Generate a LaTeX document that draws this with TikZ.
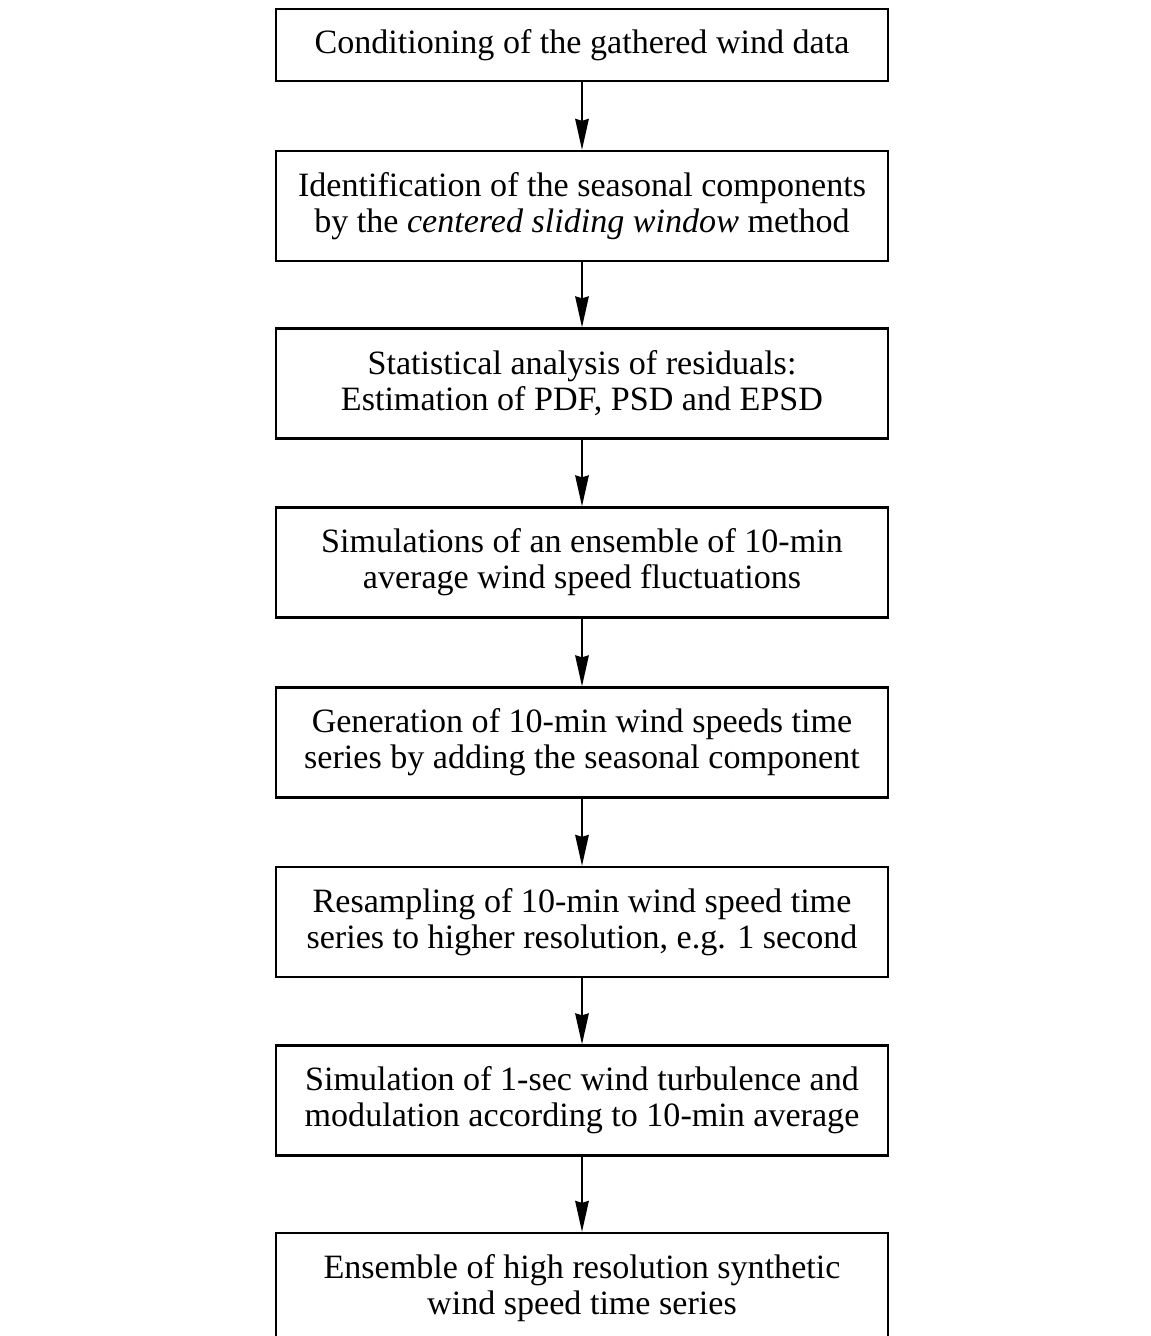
\documentclass[tikz,border=0pt]{standalone}
\usepackage{fontspec}
\setmainfont{Liberation Serif}
\usepackage{tikz}
\usetikzlibrary{arrows.meta}
\tikzset{>={Stealth[length=6.2mm,width=2.7mm,inset=0.4mm]}}
\tikzset{stepbox/.style={draw, line width=1.3pt, minimum width=12.24cm, minimum height=2.2cm, align=center, font=\fontsize{19.4}{20.5}\selectfont, inner sep=0pt}}
\tikzset{flow/.style={->, line width=1.2pt}}

\begin{document}
\begin{tikzpicture}[x=0.02cm, y=-0.02cm]
				\clip (0,0) rectangle (1151,1336);
			
				\node[stepbox, minimum height=1.44cm] (cond) at (582, 45) {Conditioning of the gathered wind data};
				\node[stepbox] (seas) at (582, 206) {Identification of the seasonal components\\by the \textit{centered sliding window} method};
				\node[stepbox] (stat) at (582, 383.5) {Statistical analysis of residuals:\\Estimation of PDF, PSD and EPSD};
				\node[stepbox] (simu) at (582, 562.5) {Simulations of an ensemble of 10-min\\average wind speed fluctuations};
				\node[stepbox] (gene) at (582, 742.5) {Generation of 10-min wind speeds time\\series by adding the seasonal component};
				\node[stepbox] (resa) at (582, 922) {Resampling of 10-min wind speed time\\series to higher resolution, e.g. 1 second};
				\node[stepbox] (turb) at (582, 1100.5) {Simulation of 1-sec wind turbulence and\\modulation according to 10-min average};
				\node[stepbox] (ense) at (582, 1288) {Ensemble of high resolution synthetic\\wind speed time series};
			
				\draw[flow] (cond) -- (seas);
				\draw[flow] (seas) -- (stat);
				\draw[flow] (stat) -- (simu);
				\draw[flow] (simu) -- (gene);
				\draw[flow] (gene) -- (resa);
				\draw[flow] (resa) -- (turb);
				\draw[flow] (turb) -- (ense);
			
			\end{tikzpicture}
\end{document}
